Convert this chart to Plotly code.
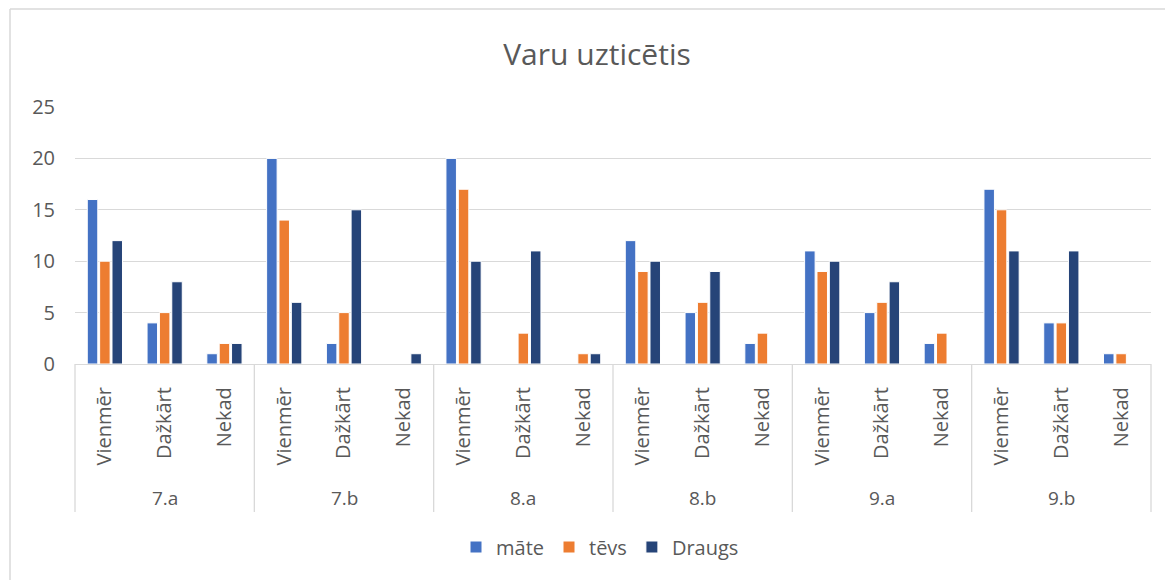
import plotly.graph_objects as go

groups = ["7.a", "7.b", "8.a", "8.b", "9.a", "9.b"]
answers = ["Vienmēr", "Dažkārt", "Nekad"]
series_names = ["māte", "tēvs", "Draugs"]
mate = [16, 4, 1, 20, 2, 0, 20, 0, 0, 12, 5, 2, 11, 5, 2, 17, 4, 1]
tevs = [10, 5, 2, 14, 5, 0, 17, 3, 1, 9, 6, 3, 9, 6, 3, 15, 4, 1]
draugs = [12, 8, 2, 6, 15, 1, 10, 11, 1, 10, 9, 0, 10, 8, 0, 11, 11, 0]
colors = ["#4472C4", "#ED7D31", "#264478"]
y_ticks = [0, 5, 10, 15, 20, 25]

OFF = 8  # page body margin
W, H = 1173 - OFF, 580 - OFF
ml, mt = 75 - OFF, 107 - OFF
mr = W - (1151 - OFF)
mb = H - (364 - OFF)
ph = H - mt - mb
pw = W - ml - mr

n = len(groups) * len(answers)
xs = list(range(n))
sub_labels = [answers[i % len(answers)] for i in xs]

fig = go.Figure()
for name, vals, c in zip(series_names, [mate, tevs, draugs], colors):
    fig.add_trace(go.Bar(
        x=xs, y=vals, name=name,
        marker=dict(color=c, line=dict(color="white", width=1)),
    ))

txt = "#595959"
font = "'Open Sans', sans-serif"

shapes = []
ng = len(groups)
for k in range(ng + 1):
    shapes.append(dict(type="line", xref="paper", yref="paper",
                       x0=k / ng, x1=k / ng, y0=0, y1=-148 / ph,
                       line=dict(color="#D9D9D9", width=1.3)))
# chart border (only top & left visible in the reference)
bx0 = (10 - OFF - ml) / pw
by1 = 1 + (mt - (9 - OFF)) / ph
shapes.append(dict(type="line", xref="paper", yref="paper", layer="below",
                   x0=bx0, x1=1 + mr / pw, y0=by1, y1=by1,
                   line=dict(color="#D9D9D9", width=1.5)))
shapes.append(dict(type="line", xref="paper", yref="paper", layer="below",
                   x0=bx0, x1=bx0, y0=-mb / ph, y1=by1,
                   line=dict(color="#D9D9D9", width=1.5)))

annotations = []
for g_i, g in enumerate(groups):
    annotations.append(dict(
        x=(g_i + 0.5) / ng, xref="paper", y=0, yref="paper",
        yshift=-134, text=g, showarrow=False,
        font=dict(size=19, color=txt, family=font),
        xanchor="center", yanchor="middle"))

fig.update_layout(
    width=W, height=H,
    margin=dict(l=ml, r=mr, t=mt, b=mb, autoexpand=False),
    paper_bgcolor="white", plot_bgcolor="white",
    title=dict(text="Varu uzticētis", x=(597 - OFF) / W, xanchor="center",
               y=1 - (54 - OFF) / H, yanchor="middle",
               font=dict(size=30, color=txt, family=font)),
    barmode="group", bargap=0.38, bargroupgap=0.15,
    font=dict(family=font, color=txt, size=20),
    xaxis=dict(range=[-0.5, n - 0.5], tickvals=xs, ticktext=sub_labels,
               tickangle=-90, showgrid=False, zeroline=False,
               showline=True, linecolor="#D9D9D9", linewidth=1.3,
               ticks="", tickfont=dict(size=20, color=txt, family=font),
               ticklabelstandoff=14),
    yaxis=dict(range=[0, 25], tickvals=y_ticks, showgrid=True,
               gridcolor="#D9D9D9", gridwidth=1.3, zeroline=False,
               showline=False, ticks="",
               tickfont=dict(size=20, color=txt, family=font),
               ticklabelstandoff=19),
    legend=dict(orientation="h", x=(600 - OFF - ml) / pw, xanchor="center",
                y=-(547 - 364) / ph, yanchor="middle",
                font=dict(size=20, color=txt, family=font),
                traceorder="normal"),
    shapes=shapes, annotations=annotations,
)

fig.write_html("out.html")
